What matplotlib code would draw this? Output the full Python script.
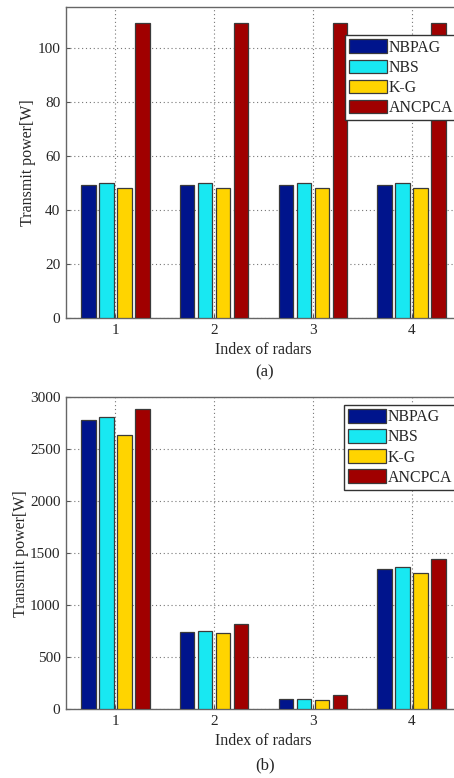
import numpy as np
import matplotlib
matplotlib.use("Agg")
import matplotlib.pyplot as plt

plt.rcParams['font.family'] = ['Liberation Serif', 'DejaVu Serif']

radars = [1, 2, 3, 4]
series = ["NBPAG", "NBS", "K-G", "ANCPCA"]
colors = ["#00148C", "#18E8F2", "#FFD400", "#A00000"]

# (a)
a_nbpag = [49.3, 49.3, 49.3, 49.3]
a_nbs = [50.0, 50.0, 50.0, 50.0]
a_kg = [48.0, 48.0, 48.0, 48.0]
a_ancpca = [109.0, 109.0, 109.0, 109.0]

# (b)
b_nbpag = [2780, 743, 94, 1349]
b_nbs = [2813, 753, 94, 1364]
b_kg = [2639, 727, 84, 1306]
b_ancpca = [2887, 814, 138, 1439]

W, H = 454, 778
fig = plt.figure(figsize=(W / 100, H / 100), dpi=100)

axA = fig.add_axes([66 / W, 1 - 318 / H, 395 / W, 311 / H])
axB = fig.add_axes([66 / W, 1 - 709 / H, 395 / W, (709 - 397.3) / H])

offsets = [-0.274, -0.091, 0.091, 0.274]
bw = 0.147
txtc = "#262626"

def draw(ax, data, ylim, yticks, leg_anchor, caption, cap_y):
    x = np.array(radars, dtype=float)
    handles = []
    for vals, off, c, name in zip(data, offsets, colors, series):
        h = ax.bar(x + off, vals, width=bw, color=c, edgecolor="#3a3a3a",
                   linewidth=0.9, label=name, zorder=3)
        handles.append(h)
    ax.set_xlim(0.5, 4.5)
    ax.set_ylim(*ylim)
    ax.set_xticks(radars)
    ax.set_yticks(yticks)
    ax.grid(True, linestyle=(0, (1, 2.5)), color="#777777", linewidth=0.8, zorder=0)
    ax.set_axisbelow(True)
    ax.tick_params(direction="in", length=3, width=0.8, colors="#555555",
                   labelcolor=txtc, labelsize=11, pad=4, top=False, right=False)
    for s in ax.spines.values():
        s.set_color("#666666")
        s.set_linewidth(1.0)
    ax.set_xlabel("Index of radars", fontsize=11.5, color=txtc, labelpad=4)
    ax.set_ylabel("Transmit power[W]", fontsize=11.5, color=txtc, labelpad=1)
    leg = ax.legend(handles=handles, loc="upper left",
                    bbox_to_anchor=leg_anchor, bbox_transform=fig.transFigure,
                    fontsize=11.4, frameon=True, fancybox=False,
                    handlelength=2.35, handleheight=0.95, handletextpad=0.15,
                    labelspacing=0.24, borderpad=0.28, borderaxespad=0)
    leg.get_frame().set_edgecolor("#333333")
    leg.get_frame().set_linewidth(1.0)
    leg.get_frame().set_alpha(1)
    for t in leg.get_texts():
        t.set_color(txtc)
    fig.text(265 / W, 1 - cap_y / H, caption, ha="center", va="center",
             fontsize=12, color=txtc)

draw(axA, [a_nbpag, a_nbs, a_kg, a_ancpca], (0, 115), [0, 20, 40, 60, 80, 100],
     (345 / W, 1 - 35 / H), "(a)", 372)
draw(axB, [b_nbpag, b_nbs, b_kg, b_ancpca], (0, 3000),
     [0, 500, 1000, 1500, 2000, 2500, 3000],
     (344 / W, 1 - 404.7 / H), "(b)", 765.5)

fig.savefig("out.png", dpi=100)
